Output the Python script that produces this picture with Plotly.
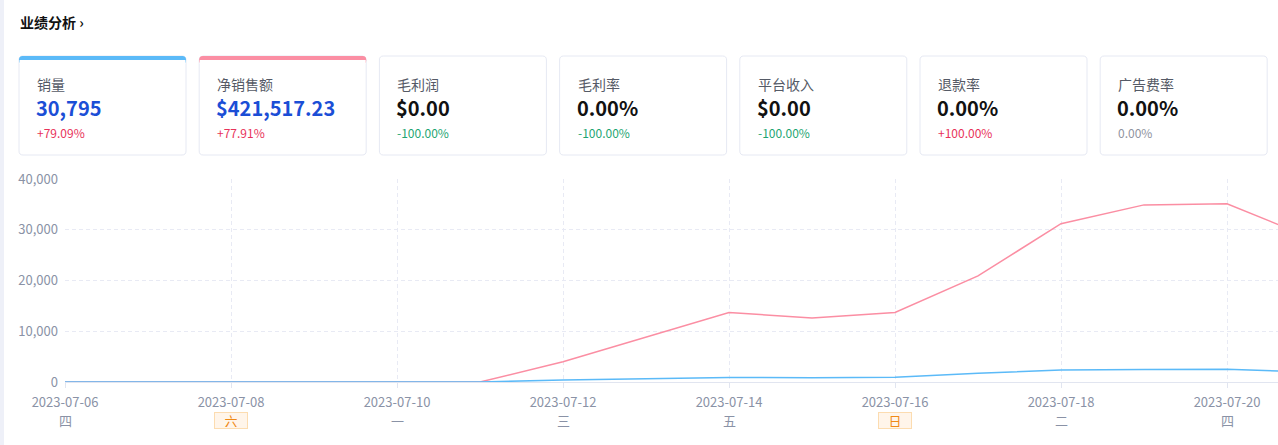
import plotly.graph_objects as go
import pandas as pd

# ---------------- data ----------------
dates = ["2023-07-06", "2023-07-07", "2023-07-08", "2023-07-09", "2023-07-10",
         "2023-07-11", "2023-07-12", "2023-07-13", "2023-07-14", "2023-07-15",
         "2023-07-16", "2023-07-17", "2023-07-18", "2023-07-19", "2023-07-20",
         "2023-07-21"]
net_sales = [0, 0, 0, 0, 0, 0, 4000, 8800, 13700, 12600, 13700, 20900,
             31200, 34900, 35100, 28500]
sales_qty = [0, 0, 0, 0, 0, 0, 400, 650, 900, 850, 920, 1700,
             2350, 2450, 2500, 1950]

tick_dates = ["2023-07-06", "2023-07-08", "2023-07-10", "2023-07-12",
              "2023-07-14", "2023-07-16", "2023-07-18", "2023-07-20"]
tick_weekdays = ["四", "六", "一", "三", "五", "日", "二", "四"]
weekend_flags = [False, True, False, False, False, True, False, False]

card_labels = ["销量", "净销售额", "毛利润", "毛利率", "平台收入", "退款率", "广告费率"]
card_values = ["30,795", "$421,517.23", "$0.00", "0.00%", "$0.00", "0.00%", "0.00%"]
card_changes = ["+79.09%", "+77.91%", "-100.00%", "-100.00%", "-100.00%", "+100.00%", "0.00%"]

# ---------------- styles ----------------
W, H = 1278, 445
FONT = "Noto Sans CJK SC"
PINK = "#fb8ea3"
BLUE = "#5bbaf8"
card_value_colors = ["#1b4ed6", "#1b4ed6", "#111111", "#111111", "#111111", "#111111", "#111111"]
change_colors = {"+": "#e8335a", "-": "#1ea672", "0": "#8f93a0"}
card_top_colors = [BLUE, PINK, None, None, None, None, None]
GRID = "#e8eaf4"


def px(x):
    return x / W


def py(y):
    return 1 - y / H


fig = go.Figure()

fig.add_trace(go.Scatter(x=dates, y=net_sales, mode="lines",
                         line=dict(color=PINK, width=1.5), name="净销售额",
                         hoverinfo="x+y"))
fig.add_trace(go.Scatter(x=dates, y=sales_qty, mode="lines",
                         line=dict(color=BLUE, width=1.5), name="销量",
                         hoverinfo="x+y"))

# x range: plot area starts at 65 px with 83 px per day, cut at the window edge
x0_px = 65
day_px = 83
start = pd.Timestamp(dates[0])
end = start + pd.Timedelta(days=(W - x0_px) / day_px)

fig.update_layout(
    width=W, height=H,
    margin=dict(l=0, r=0, t=0, b=0),
    paper_bgcolor="white", plot_bgcolor="white",
    showlegend=False,
    font=dict(family=FONT, color="#8a92a6", size=12),
    xaxis=dict(
        domain=[px(x0_px), 1],
        type="date",
        range=[start.strftime("%Y-%m-%d %H:%M:%S"), end.strftime("%Y-%m-%d %H:%M:%S")],
        tickvals=tick_dates,
        tickformat="%Y-%m-%d",
        showgrid=True, gridcolor=GRID, griddash="4px,3px", gridwidth=1,
        showline=True, linecolor="#e1e5f0", linewidth=1,
        ticks="outside", ticklen=5, tickcolor="#e1e5f0",
        ticklabelstandoff=3,
        tickfont=dict(size=13, color="#8a92a6", family=FONT),
        zeroline=False, automargin=False, fixedrange=True,
    ),
    yaxis=dict(
        domain=[py(382), py(179)],
        range=[0, 40000],
        tickvals=[0, 10000, 20000, 30000, 40000],
        tickformat=",d",
        showgrid=True, gridcolor=GRID, griddash="4px,3px", gridwidth=1,
        zeroline=False, showline=False,
        ticks="", ticklabelstandoff=6,
        tickfont=dict(size=13, color="#8a92a6", family=FONT),
        automargin=False, fixedrange=True,
    ),
)

shapes = []
annotations = []

# left page strip
shapes.append(dict(type="rect", xref="paper", yref="paper",
                   x0=0, x1=px(4), y0=0, y1=1,
                   fillcolor="#eef0f8", line=dict(width=0), layer="below"))

# title
annotations.append(dict(xref="paper", yref="paper", x=px(18), y=py(22),
                        xanchor="left", yanchor="middle", showarrow=False,
                        text="<b>业绩分析</b> <b>›</b>",
                        font=dict(family=FONT, size=14, color="#111111")))


def rounded_path(x0, y0, x1, y1, r):
    def P(x, y):
        return f"{px(x):.6f},{py(y):.6f}"
    d = (f"M {P(x0 + r, y0)} L {P(x1 - r, y0)} Q {P(x1, y0)} {P(x1, y0 + r)} "
         f"L {P(x1, y1 - r)} Q {P(x1, y1)} {P(x1 - r, y1)} "
         f"L {P(x0 + r, y1)} Q {P(x0, y1)} {P(x0, y1 - r)} "
         f"L {P(x0, y0 + r)} Q {P(x0, y0)} {P(x0 + r, y0)} Z")
    return d


card_left0 = 19
card_pitch = 180.2
card_w = 167
card_top = 56
card_bot = 155

for i, lab in enumerate(card_labels):
    cx0 = card_left0 + i * card_pitch
    cx1 = cx0 + card_w
    shapes.append(dict(type="path", xref="paper", yref="paper",
                       path=rounded_path(cx0, card_top, cx1, card_bot, 4),
                       fillcolor="white", line=dict(color="#e6e9f3", width=1),
                       layer="below"))
    if card_top_colors[i]:
        shapes.append(dict(type="path", xref="paper", yref="paper",
                           path=rounded_path(cx0, card_top, cx1, card_top + 8, 3.5),
                           fillcolor=card_top_colors[i], line=dict(width=0),
                           layer="below"))
        shapes.append(dict(type="rect", xref="paper", yref="paper",
                           x0=px(cx0 + 0.5), x1=px(cx1 - 0.5),
                           y0=py(card_top + 8), y1=py(card_top + 4),
                           fillcolor="white", line=dict(width=0), layer="below"))
    tx = cx0 + 16
    annotations.append(dict(xref="paper", yref="paper", x=px(tx), y=py(84),
                            xanchor="left", yanchor="middle", showarrow=False,
                            text=lab, font=dict(family=FONT, size=14, color="#555a66")))
    annotations.append(dict(xref="paper", yref="paper", x=px(tx - 1), y=py(108),
                            xanchor="left", yanchor="middle", showarrow=False,
                            text=f"<b>{card_values[i]}</b>",
                            font=dict(family=FONT, size=20, color=card_value_colors[i])))
    ch = card_changes[i]
    annotations.append(dict(xref="paper", yref="paper", x=px(tx), y=py(132),
                            xanchor="left", yanchor="middle", showarrow=False,
                            text=ch, font=dict(family=FONT, size=12,
                                               color=change_colors[ch[0]])))

# weekday labels under the date ticks
for d, wd, we in zip(tick_dates, tick_weekdays, weekend_flags):
    a = dict(xref="x", yref="paper", x=d, y=py(420),
             xanchor="center", yanchor="middle", showarrow=False,
             text=wd, font=dict(family=FONT, size=13,
                                color="#f08a16" if we else "#8a92a6"))
    if we:
        a.update(bgcolor="#fff5ea", bordercolor="#fcdcb0", borderwidth=1,
                 borderpad=1, width=30, height=13)
    annotations.append(a)

fig.update_layout(shapes=shapes, annotations=annotations)

fig.write_html("out.html", config={"displayModeBar": False},
               post_script="document.body.style.margin='0';document.body.style.overflow='hidden';")
